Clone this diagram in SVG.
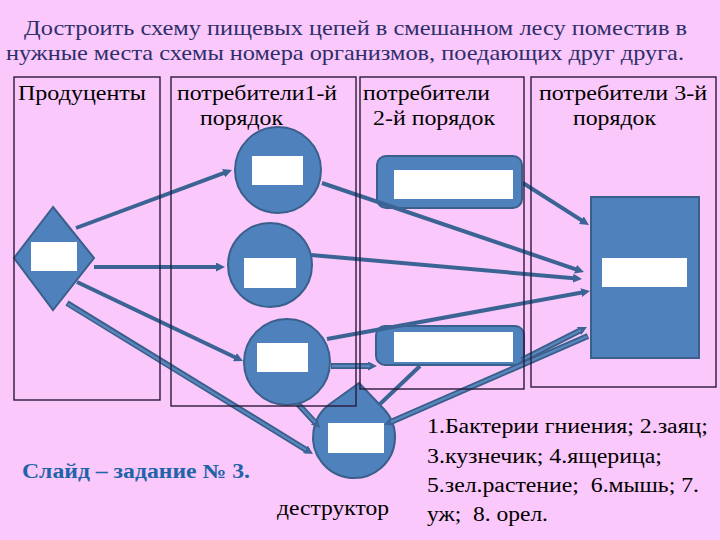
<svg xmlns="http://www.w3.org/2000/svg" width="720" height="540" viewBox="0 0 720 540" font-family="Liberation Serif, DejaVu Serif, Times New Roman, serif">
<defs>
<style>
.bg{fill:#FAC8FA}
.shape{fill:#4F81BD;stroke:#3A5F8B;stroke-width:2}
.slot{fill:#FFFFFF}
.col{fill:none;stroke:#2A1A3A;stroke-width:1.4}
.ar{fill:none;stroke:#3B6494;stroke-width:4}
.dblo{fill:none;stroke:#3A5F8B;stroke-width:6}
.dbli{fill:none;stroke:#5A86BE;stroke-width:2.4}
.title{font-size:21px;fill:#2E2E6A}
.hdr{font-size:20px;fill:#000000}
.note{font-size:20px;fill:#000000}
.task{font-size:20px;font-weight:bold;fill:#1F64A8}
</style>
<marker id="ah" viewBox="0 0 10 10" refX="4" refY="5" markerWidth="9" markerHeight="9" markerUnits="userSpaceOnUse" orient="auto">
<path d="M0,0 L10,5 L0,10 z" fill="#3B6494"/>
</marker>
</defs>
<rect class="bg" x="0" y="0" width="720" height="540"/>

<text class="title" x="24" y="35" textLength="663" lengthAdjust="spacingAndGlyphs" font-family="Liberation Serif, serif">Достроить схему пищевых цепей в смешанном лесу поместив в</text>
<text class="title" x="6" y="60" textLength="678" lengthAdjust="spacingAndGlyphs" font-family="Liberation Serif, serif">нужные места схемы номера организмов, поедающих друг друга.</text>

<g id="producer">
<polygon class="shape" points="53,207 94,258 53,310 14,258"/>
<rect class="slot" x="31" y="242" width="46" height="29"/>
</g>
<g id="consumer1a">
<circle class="shape" cx="278" cy="170" r="43"/>
<rect class="slot" x="252" y="156" width="51" height="29"/>
</g>
<g id="consumer1b">
<circle class="shape" cx="270" cy="265" r="42"/>
<rect class="slot" x="244" y="258" width="52" height="30"/>
</g>
<g id="consumer1c">
<circle class="shape" cx="287" cy="362" r="43"/>
<rect class="slot" x="257" y="343" width="51" height="29"/>
</g>
<g id="consumer2a">
<rect class="shape" x="377" y="156" width="145" height="52" rx="9"/>
<rect class="slot" x="394" y="170" width="119" height="29"/>
</g>
<g id="consumer2b">
<rect class="shape" x="376" y="326" width="148" height="39" rx="9"/>
<rect class="slot" x="394" y="332" width="119" height="30"/>
</g>
<g id="consumer3">
<rect class="shape" x="591" y="197" width="108" height="161"/>
<rect class="slot" x="602" y="258" width="85" height="29"/>
</g>
<g id="destructor">
<path class="shape" d="M359,383 L383.6,408.7 A41,41 0 1,1 330.2,403.7 Z"/>
<rect class="slot" x="328" y="423" width="56" height="30"/>
</g>

<g id="connectors">
<line class="ar" x1="76" y1="228" x2="226.9" y2="171.9" marker-end="url(#ah)"/>
<line class="ar" x1="94" y1="267" x2="219.6" y2="267" marker-end="url(#ah)"/>
<line class="ar" x1="77" y1="282" x2="238.1" y2="358.7" marker-end="url(#ah)"/>
<line class="ar" x1="322" y1="183" x2="578.9" y2="270.3" marker-end="url(#ah)"/>
<line class="ar" x1="311" y1="255" x2="576.6" y2="278.5" marker-end="url(#ah)"/>
<line class="ar" x1="327" y1="339" x2="584.7" y2="292" marker-end="url(#ah)"/>
<line class="ar" x1="523" y1="183" x2="584.4" y2="222.1" marker-end="url(#ah)"/>
<line class="ar" x1="420" y1="366" x2="380" y2="404"/>
<line class="dblo" x1="67" y1="303" x2="308.4" y2="451.2" marker-end="url(#ah)"/>
<line class="dbli" x1="68" y1="304" x2="306" y2="449.7"/>
<line class="dblo" x1="331" y1="366" x2="371.6" y2="366" marker-end="url(#ah)"/>
<line class="dbli" x1="332" y1="366" x2="370" y2="366"/>
<line class="dblo" x1="298" y1="404" x2="316.4" y2="424" marker-end="url(#ah)"/>
<line class="dbli" x1="299" y1="405" x2="315" y2="422.5"/>
<line class="dblo" x1="522" y1="360" x2="582.2" y2="329.4" marker-end="url(#ah)"/>
<line class="dbli" x1="523" y1="359.5" x2="581" y2="330"/>
<line class="dblo" x1="588" y1="336" x2="389.1" y2="422.7" marker-end="url(#ah)"/>
<line class="dbli" x1="587" y1="336.5" x2="391" y2="421.9"/>
</g>

<g id="columns">
<rect class="col" x="14" y="77" width="146" height="323"/>
<rect class="col" x="171" y="77" width="185" height="329"/>
<rect class="col" x="360" y="77" width="164" height="312"/>
<rect class="col" x="531" y="77" width="185" height="310"/>
</g>

<g id="headers">
<text class="hdr" x="18" y="100" textLength="128" lengthAdjust="spacingAndGlyphs">Продуценты</text>
<text class="hdr" x="177" y="100" textLength="160" lengthAdjust="spacingAndGlyphs">потребители1-й</text>
<text class="hdr" x="200" y="125" textLength="83" lengthAdjust="spacingAndGlyphs">порядок</text>
<text class="hdr" x="363" y="100" textLength="127" lengthAdjust="spacingAndGlyphs">потребители</text>
<text class="hdr" x="373" y="125" textLength="122" lengthAdjust="spacingAndGlyphs">2-й порядок</text>
<text class="hdr" x="539" y="100" textLength="168" lengthAdjust="spacingAndGlyphs">потребители 3-й</text>
<text class="hdr" x="573" y="125" textLength="83" lengthAdjust="spacingAndGlyphs">порядок</text>
</g>

<text class="task" x="22" y="478" textLength="228" lengthAdjust="spacingAndGlyphs">Слайд – задание № 3.</text>
<text class="note" x="277" y="515" textLength="112" lengthAdjust="spacingAndGlyphs">деструктор</text>

<g id="legend">
<text class="note" x="427" y="433" textLength="281" lengthAdjust="spacingAndGlyphs">1.Бактерии гниения; 2.заяц;</text>
<text class="note" x="427" y="463" textLength="235" lengthAdjust="spacingAndGlyphs">3.кузнечик; 4.ящерица;</text>
<text class="note" x="427" y="492" textLength="272" lengthAdjust="spacingAndGlyphs" xml:space="preserve">5.зел.растение;  6.мышь; 7.</text>
<text class="note" x="427" y="521" textLength="121" lengthAdjust="spacingAndGlyphs" xml:space="preserve">уж;  8. орел.</text>
</g>
</svg>
